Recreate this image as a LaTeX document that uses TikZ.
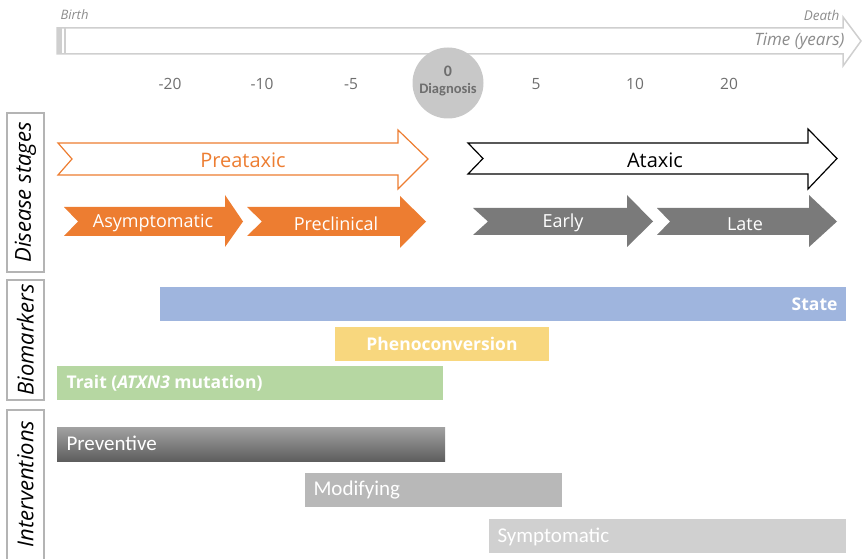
\documentclass[tikz,border=0pt]{standalone}
\usepackage{fontspec}
\setmainfont{Open Sans}
\newfontfamily\carfont{Carlito}
\usetikzlibrary{calc}
\definecolor{tlgray}{HTML}{CFCFCF}
\definecolor{tltext}{HTML}{8C8C8C}
\definecolor{ticktext}{HTML}{6E6E6E}
\definecolor{orng}{HTML}{ED7D31}
\definecolor{dgray}{HTML}{7A7A7A}
\definecolor{stblue}{HTML}{9FB5DE}
\definecolor{phyel}{HTML}{F8D77E}
\definecolor{trgreen}{HTML}{B6D7A2}
\definecolor{modgray}{HTML}{B8B8B8}
\definecolor{symgray}{HTML}{D0D0D0}
\definecolor{circgray}{HTML}{C8C8C8}
\definecolor{prevtop}{HTML}{A2A2A2}
\definecolor{prevbot}{HTML}{5E5E5E}
\definecolor{boxgray}{HTML}{B4B4B4}
\newcommand\chevron[9]{%
  \path[#1] (#2,#6) -- (#4,#6) -- (#4,#8) -- (#5,{(#6+#7)/2}) -- (#4,#9) -- (#4,#7) -- (#2,#7) -- (#3,{(#6+#7)/2}) -- cycle;}
\tikzset{
  tick/.style={font=\fontsize{15.5}{18}\selectfont, text=ticktext},
  sidebox/.style={draw=boxgray, line width=1.2pt, minimum width=37pt, inner sep=0pt},
  sidetext/.style={rotate=90, font=\fontsize{22}{26}\selectfont\itshape, inner sep=0pt},
  stagetext/.style={font=\fontsize{20}{24}\selectfont},
  stagesmall/.style={font=\fontsize{18}{22}\selectfont, text=white},
  bartext/.style={font=\fontsize{17.5}{20}\selectfont\bfseries, text=white},
  inttext/.style={font=\carfont\fontsize{21}{24}\selectfont, text=white},
}
\begin{document}
\begin{tikzpicture}[x=1pt,y=-1pt]
\useasboundingbox (0,0) rectangle (863,559);
% timeline
\path[draw=tlgray, line width=1.5pt, fill=white, line join=miter]
  (57,28) -- (843,28) -- (843,17) -- (861,41) -- (843,66) -- (843,54) -- (57,54) -- cycle;
\fill[tlgray] (57,28) rectangle (61.5,54);
\draw[tlgray, line width=1.2pt] (65,28) -- (65,54);
\node[anchor=west, text=tltext, font=\fontsize{13}{15}\selectfont\itshape] (birth) at (57,15) {Birth};
\node[anchor=east, text=tltext, font=\fontsize{13.5}{15}\selectfont\itshape] (death) at (843,15) {Death};
\node[anchor=east, text=tltext, font=\fontsize{17}{19}\selectfont\itshape] (time) at (848,41) {Time (years)};
% ticks
\node[tick] (t1) at (170,84) {-20};
\node[tick] (t2) at (262,84) {-10};
\node[tick] (t3) at (351,84) {-5};
\node[tick] (t5) at (536,84) {5};
\node[tick] (t6) at (635,84) {10};
\node[tick] (t7) at (729,84) {20};
\node[circle, fill=circgray, minimum size=71pt, inner sep=0pt] (diag) at (448,83) {};
\node[text=ticktext, font=\carfont\fontsize{16}{18}\selectfont\bfseries] (zero) at (448,71) {0};
\node[text=ticktext, font=\carfont\fontsize{14.5}{16}\selectfont\bfseries] (diagt) at (448,90) {Diagnosis};
% side boxes
\node[sidebox, minimum height=159pt] (ds) at (25.5,192.5) {};
\node[sidetext] (dst) at (ds.center) {Disease stages};
\node[sidebox, minimum height=120pt] (bm) at (25.5,340) {};
\node[sidetext] (bmt) at (bm.center) {Biomarkers};
\node[sidebox, minimum height=152pt] (iv) at (25.5,486) {};
\node[sidetext] (ivt) at ([yshift=2pt]iv.center) {Interventions};
% stage arrows
\chevron{draw=orng, line width=1.2pt, fill=white}{58}{72}{398}{428}{143}{175}{130}{189}
\node[stagetext, text=orng] (pre) at (243,160.5) {Preataxic};
\chevron{draw=black, line width=1.2pt, fill=white}{468}{483}{808}{837}{143}{174}{129}{189}
\node[stagetext, text=black] (atx) at (655,160) {Ataxic};
\chevron{fill=orng}{64}{78}{225}{243}{207}{236}{195}{247}
\node[stagesmall] (asy) at (153,223) {Asymptomatic};
\chevron{fill=orng}{247}{262}{400}{426}{207}{236}{196}{248}
\node[stagesmall] (prc) at (336,224) {Preclinical};
\chevron{fill=dgray}{473}{488}{627}{653}{208}{235}{195}{247}
\node[stagesmall] (ear) at (563,223) {Early};
\chevron{fill=dgray}{657}{670}{809}{837}{208}{235}{195}{247}
\node[stagesmall] (lat) at (745,224) {Late};
% biomarkers
\fill[stblue] (160,287) rectangle (846,321);
\node[bartext, anchor=east] (state) at (841,304) {State};
\fill[phyel] (335,327) rectangle (549,361);
\node[bartext] (pheno) at (442,344) {Phenoconversion};
\fill[trgreen] (57,366) rectangle (443,400);
\node[bartext, anchor=west] (trait) at (63,383) {Trait (\textit{ATXN3} mutation)};
% interventions
\shade[top color=prevtop, bottom color=prevbot] (57,427) rectangle (445,461);
\node[inttext, anchor=west] (prev) at (63,443.5) {Preventive};
\fill[modgray] (305,473) rectangle (562,507);
\node[inttext, anchor=west] (mod) at (310,490) {Modifying};
\fill[symgray] (489,519) rectangle (846,553);
\node[inttext, anchor=west] (sym) at (494,536.5) {Symptomatic};
\end{tikzpicture}
\end{document}
